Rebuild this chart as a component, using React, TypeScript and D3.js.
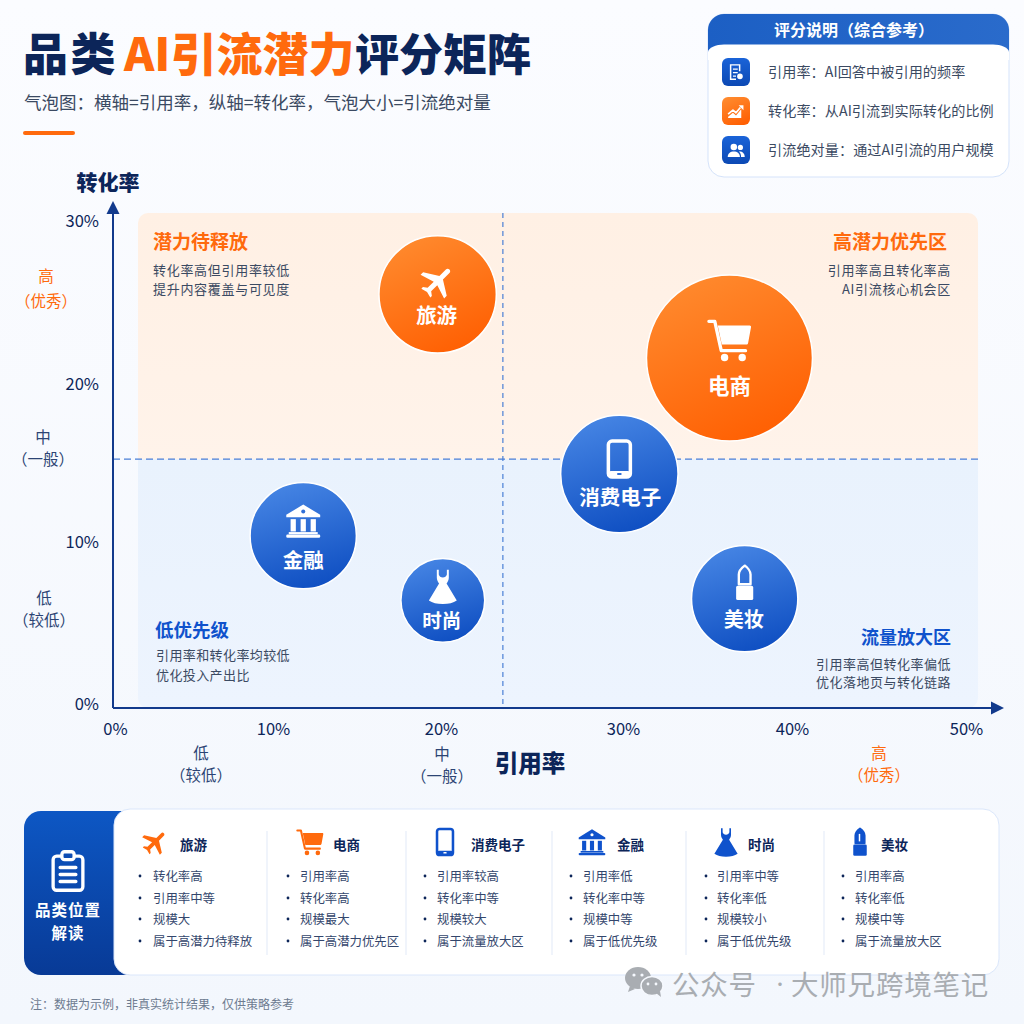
import React, { useEffect, useRef } from "react";
import { axisBottom, axisLeft, scaleLinear, scaleSqrt, select } from "d3";

const FONT = '"Noto Sans CJK SC", "Noto Sans", sans-serif';
const NAVY = "#0c2559";
const ORANGE = "#ff6a0d";
const BLUE = "#0f52cc";

// chart values
const categories = ["旅游", "电商", "消费电子", "金融", "时尚", "美妆"];
const citationRate = [19.8, 36.3, 29.8, 11.8, 20.1, 37.2];
const conversionRate = [25.5, 21.6, 14.3, 10.4, 6.4, 6.5];
const trafficSize = [50, 100, 50, 41, 25.5, 41];
const iconNames = ["plane", "cart", "phone", "bank", "dress", "lipstick"];
const tones = ["orange", "orange", "blue", "blue", "blue", "blue"];
const xTicks = [0, 10, 20, 30, 40, 50];
const yTicks = [0, 10, 20, 30];
const xDivider = 23.4;
const yDivider = 15.25;

const notes = [
  ["转化率高", "引用率中等", "规模大", "属于高潜力待释放"],
  ["引用率高", "转化率高", "规模最大", "属于高潜力优先区"],
  ["引用率较高", "转化率中等", "规模较大", "属于流量放大区"],
  ["引用率低", "转化率中等", "规模中等", "属于低优先级"],
  ["引用率中等", "转化率低", "规模较小", "属于低优先级"],
  ["引用率高", "转化率低", "规模中等", "属于流量放大区"],
];
const legendRows = [
  "引用率：AI回答中被引用的频率",
  "转化率：从AI引流到实际转化的比例",
  "引流绝对量：通过AI引流的用户规模",
];

// the picture's axes are not quite even, so the scales go through each tick
const x = scaleLinear().domain(xTicks).range([115, 273, 441, 623, 792, 966]);
const y = scaleLinear().domain(yTicks).range([704, 542, 384, 221]);
const r = scaleSqrt().domain([0, 100]).range([0, 83]);

// bubble inner layout: icon offset, icon size, label offset, label size
const bubbleLayout = [
  { iconDy: -13, iconSize: 40, labelDy: 20, labelSize: 20.5, labelDx: -1 },
  { iconDy: -18, iconSize: 47, labelDy: 27, labelSize: 21.5, labelDx: 0 },
  { iconDy: -15, iconSize: 40, labelDy: 22, labelSize: 20.5, labelDx: 1 },
  { iconDy: -15, iconSize: 37, labelDy: 23, labelSize: 20.5, labelDx: 0 },
  { iconDy: -14, iconSize: 36, labelDy: 19, labelSize: 19.5, labelDx: -1 },
  { iconDy: -16, iconSize: 38, labelDy: 20, labelSize: 20, labelDx: -1 },
];
const columnLayout = [
  { bullet: 139, text: 153, icon: 155, title: 180, iconSize: 30 },
  { bullet: 287, text: 300, icon: 310, title: 333, iconSize: 29 },
  { bullet: 424, text: 437, icon: 445, title: 471, iconSize: 29 },
  { bullet: 570, text: 583, icon: 592, title: 617, iconSize: 29 },
  { bullet: 705, text: 717, icon: 726, title: 748, iconSize: 30 },
  { bullet: 842, text: 855, icon: 860, title: 881, iconSize: 30 },
];
const columnDividers = [267, 406, 552, 686, 824];
const noteRowY = [876, 898, 919, 941];

function Icon({ name, color, cx, cy, size, hole }: any) {
  const k = size / 24;
  return (
    <g transform={`translate(${cx - 12 * k},${cy - 12 * k}) scale(${k})`} fill={color}>
      {name === "plane" && (
        <path
          transform="rotate(45 12 12)"
          d="M22 16.500v-2.200l-8.500-5.300V3.500C13.500 2.600 12.800 2 12 2s-1.500.6-1.500 1.500V9L2 14.300v2.200l8.500-2.700V19l-2.300 1.700V22l3.800-1 3.800 1v-1.300L13.500 19v-5.200z"
        />
      )}
      {name === "cart" && (
        <g>
          <path d="M1.500 2.500h3l3.300 15h12.400" fill="none" stroke={color} strokeWidth="1.700" strokeLinecap="round" strokeLinejoin="round" />
          <path d="M6 4.600h16.300c.5 0 .8.4.7.9l-1.500 8.200c-.1.4-.4.7-.8.7H8.100z" />
          <circle cx="9.500" cy="21" r="1.900" />
          <circle cx="18.500" cy="21" r="1.900" />
        </g>
      )}
      {name === "phone" && (
        <g>
          <rect x="5.400" y="1.200" width="13.200" height="21.600" rx="2.200" fill="none" stroke={color} strokeWidth="2.100" />
          <rect x="5.400" y="19.200" width="13.200" height="3.600" rx="1.500" />
          <rect x="10.600" y="20.300" width="2.800" height="1.300" rx="0.600" fill={hole} />
        </g>
      )}
      {name === "bank" && (
        <g>
          <path d="M12 1.500 23 8.200v1.500H1V8.200z" />
          <circle cx="12" cy="6" r="1.300" fill={hole} />
          <rect x="3.800" y="11" width="3.400" height="8" />
          <rect x="10.300" y="11" width="3.400" height="8" />
          <rect x="16.800" y="11" width="3.400" height="8" />
          <rect x="2.600" y="19.400" width="18.800" height="1.400" />
          <rect x="1" y="21" width="22" height="2" rx="0.800" />
        </g>
      )}
      {name === "dress" && (
        <path d="M8 1h1.300v3.200c.4 1.300 1.300 2 2.700 2s2.300-.7 2.700-2V1H16v5.200c0 1.600-.7 2.900-1.500 3.900l6.800 11.300c-2.300 1.500-5.400 2.400-9.300 2.400s-7-.9-9.300-2.400l6.800-11.300C8.700 9.100 8 7.800 8 6.200z" />
      )}
      {name === "lipstick" && (
        <g>
          <path
            d="M8.300 13V6.800c0-1.800 1.900-4.300 3.700-5.600 1.800 1.200 3.700 3.700 3.700 5.600V13z"
            fill={hole === "#fff" ? color : "none"}
            stroke={color}
            strokeWidth="1.500"
            strokeLinejoin="round"
          />
          {hole === "#fff" && <path d="M11 5.500h1.200v6H11z" fill="#fff" />}
          <rect x="6.600" y="14" width="10.800" height="9" rx="1" />
        </g>
      )}
      {name === "clipboard" && (
        <g fill="none" stroke={color} strokeWidth="1.900" strokeLinecap="round" strokeLinejoin="round">
          <rect x="3.500" y="3.500" width="17" height="19.500" rx="2" />
          <rect x="8.500" y="1" width="7" height="4.500" rx="1.500" fill="#0d4cb3" />
          <path d="M7.500 10h9M7.500 14h9M7.500 18h9" />
        </g>
      )}
      {name === "doc" && (
        <g>
          <path d="M5 3h12v8h-1.700V4.700H6.700v14.600H12V21H5z" />
          <path d="M8.500 8h5.500v1.500H8.500zM8.500 12h5.500v1.500H8.500zM8.500 16h3.500v1.500H8.500z" />
          <circle cx="16.500" cy="17" r="3.200" />
        </g>
      )}
      {name === "chart" && (
        <g>
          <path d="M3 15.500 8.500 11l3.500 3 5-6" fill="none" stroke={color} strokeWidth="2" strokeLinejoin="round" />
          <path d="M15 5.500h5.500V11z" />
          <path d="M3 18.500 8.500 14l3.500 3 6-7v10H3z" />
        </g>
      )}
      {name === "users" && (
        <g>
          <circle cx="9.500" cy="8.500" r="3.700" />
          <path d="M2.500 20c0-4 3-6.300 7-6.300s7 2.300 7 6.300z" />
          <circle cx="17" cy="9" r="3" />
          <path d="M17.800 20c0-2.700-.8-4.800-2.600-6.200 3.600-.5 6.800 1.700 6.800 6.200z" />
        </g>
      )}
    </g>
  );
}

export default function App() {
  const xAxisRef = useRef<SVGGElement | null>(null);
  const yAxisRef = useRef<SVGGElement | null>(null);

  useEffect(() => {
    const xAxis = select(xAxisRef.current as SVGGElement);
    xAxis.call(axisBottom(x).tickValues(xTicks).tickFormat((d) => `${d}%`).tickSize(0).tickPadding(0) as any);
    const yAxis = select(yAxisRef.current as SVGGElement);
    yAxis.call(axisLeft(y).tickValues(yTicks).tickFormat((d) => `${d}%`).tickSize(0).tickPadding(0) as any);
    for (const axis of [xAxis, yAxis]) {
      axis.select(".domain").remove();
      axis.attr("font-family", FONT).attr("font-size", 16.5);
      axis.selectAll(".tick text").attr("fill", NAVY);
    }
  }, []);

  const qx0 = 138;
  const qx1 = 978;
  const qy0 = 213;
  const qy1 = 708;
  const qx = x(xDivider);
  const qy = y(yDivider);

  const axisText = (t: string, cx: number, cy: number, fill: string, size = 15.5) => (
    <text x={cx} y={cy} textAnchor="middle" dominantBaseline="central" fontSize={size} fill={fill}>
      {t}
    </text>
  );

  return (
    <svg
      width={1024}
      height={1024}
      viewBox="0 0 1024 1024"
      style={{ position: "absolute", left: 0, top: 0 }}
      fontFamily={FONT}
    >
      <defs>
        <linearGradient id="page" x1="0" y1="0" x2="0" y2="1">
          <stop offset="0" stopColor="#fbfcff" />
          <stop offset="1" stopColor="#f3f7fd" />
        </linearGradient>
        <linearGradient id="orange" x1="0.25" y1="0" x2="0.7" y2="1">
          <stop offset="0" stopColor="#ff8a2e" />
          <stop offset="1" stopColor="#ff5f02" />
        </linearGradient>
        <linearGradient id="blue" x1="0.3" y1="0" x2="0.6" y2="1">
          <stop offset="0" stopColor="#4685e4" />
          <stop offset="1" stopColor="#0f4fc2" />
        </linearGradient>
        <linearGradient id="tile" x1="0" y1="0" x2="0" y2="1">
          <stop offset="0" stopColor="#1a63d8" />
          <stop offset="1" stopColor="#0c49b4" />
        </linearGradient>
        <linearGradient id="side" x1="0" y1="0" x2="0" y2="1">
          <stop offset="0" stopColor="#0d57c4" />
          <stop offset="1" stopColor="#083a96" />
        </linearGradient>
        <linearGradient id="head" x1="0" y1="0" x2="1" y2="0">
          <stop offset="0" stopColor="#1c5fc4" />
          <stop offset="1" stopColor="#2a6bcb" />
        </linearGradient>
        <linearGradient id="warm" x1="0" y1="0" x2="0" y2="1">
          <stop offset="0" stopColor="#fff0e4" />
          <stop offset="1" stopColor="#fff3ea" />
        </linearGradient>
        <linearGradient id="cool" x1="0" y1="0" x2="0" y2="1">
          <stop offset="0" stopColor="#e9f2fd" />
          <stop offset="1" stopColor="#edf4fe" />
        </linearGradient>
        <clipPath id="quad">
          <rect x={qx0} y={qy0} width={qx1 - qx0} height={qy1 - qy0} rx={10} />
        </clipPath>
        <clipPath id="legendBody">
          <rect x={708} y={14} width={301} height={163} rx={16} />
        </clipPath>
        <clipPath id="sideClip">
          <rect x={24} y={811} width={120} height={164} rx={17} />
        </clipPath>
      </defs>

      <rect width={1024} height={1024} fill="url(#page)" />

      {/* title */}
      <g fontWeight={900}>
        <text x={23} y={71} fontSize={45} fill={NAVY} letterSpacing={2.5}>品类</text>
        <text x={124} y={71} fontSize={46} fill={ORANGE}>AI引流潜力</text>
        <text x={355} y={71} fontSize={44} fill={NAVY}>评分矩阵</text>
      </g>
      <text x={24} y={109} fontSize={17.5} fill="#3b4a62">气泡图：横轴=引用率，纵轴=转化率，气泡大小=引流绝对量</text>
      <rect x={23} y={131} width={52} height={4} rx={2} fill={ORANGE} />

      {/* legend */}
      <rect x={708} y={14} width={301} height={163} rx={16} fill="#fff" stroke="#d5e3fa" />
      <g clipPath="url(#legendBody)">
        <rect x={708} y={14} width={301} height={38} fill="url(#head)" />
        <path d="M708 52 C708 48 716 44.500 724 44.500 H993 C1001 44.500 1009 48 1009 52 V60 H708z" fill="#fff" />
      </g>
      <text x={854} y={29} textAnchor="middle" dominantBaseline="central" fontSize={16} fontWeight={700} fill="#fff">
        评分说明（综合参考）
      </text>
      {legendRows.map((t, i) => {
        const cy = [72, 111, 150][i];
        return (
          <g key={t}>
            <rect x={722} y={cy - 14} width={28} height={28} rx={6} fill={i === 1 ? "url(#orange)" : "url(#tile)"} />
            <Icon name={["doc", "chart", "users"][i]} color="#fff" cx={736} cy={cy} size={21} />
            <text x={768} y={cy - 1} dominantBaseline="central" fontSize={14.100} fill="#3b4a62" letterSpacing={0.1}>{t}</text>
          </g>
        );
      })}

      {/* quadrants */}
      <g clipPath="url(#quad)">
        <rect x={qx0} y={qy0} width={qx1 - qx0} height={qy - qy0} fill="url(#warm)" />
        <rect x={qx0} y={qy} width={qx1 - qx0} height={qy1 - qy} fill="url(#cool)" />
      </g>
      <line x1={qx} x2={qx} y1={qy0} y2={qy1} stroke="#4a7fd6" strokeWidth={1.200} strokeDasharray="5 4" />
      <line x1={113} x2={qx1} y1={qy} y2={qy} stroke="#4a7fd6" strokeWidth={1.200} strokeDasharray="7 4" />

      {/* quadrant notes */}
      <g fontWeight={700}>
        <text x={153} y={240} fontSize={19} dominantBaseline="central" fill={ORANGE}>潜力待释放</text>
        <text x={947} y={240} fontSize={19} dominantBaseline="central" textAnchor="end" fill={ORANGE}>高潜力优先区</text>
        <text x={155} y={629} fontSize={18.500} dominantBaseline="central" fill={BLUE}>低优先级</text>
        <text x={951} y={636} fontSize={18} dominantBaseline="central" textAnchor="end" fill={BLUE}>流量放大区</text>
      </g>
      <g fontSize={13} fill="#3b4a62" letterSpacing={0.7}>
        <text x={153} y={269} dominantBaseline="central">转化率高但引用率较低</text>
        <text x={153} y={288} dominantBaseline="central">提升内容覆盖与可见度</text>
        <text x={951} y={269} dominantBaseline="central" textAnchor="end">引用率高且转化率高</text>
        <text x={951} y={288} dominantBaseline="central" textAnchor="end">AI引流核心机会区</text>
        <text x={156} y={654} dominantBaseline="central" letterSpacing={0.4}>引用率和转化率均较低</text>
        <text x={156} y={674} dominantBaseline="central" letterSpacing={0.4}>优化投入产出比</text>
        <text x={951} y={663} dominantBaseline="central" textAnchor="end" letterSpacing={0.5}>引用率高但转化率偏低</text>
        <text x={951} y={681} dominantBaseline="central" textAnchor="end" letterSpacing={0.5}>优化落地页与转化链路</text>
      </g>

      {/* axes */}
      <line x1={113} x2={113} y1={708} y2={212} stroke="#123a8c" strokeWidth={2} />
      <path d="M113 201 L119.500 214 H106.500z" fill="#123a8c" />
      <line x1={113} x2={992} y1={708} y2={708} stroke="#123a8c" strokeWidth={2} />
      <path d="M1004 708 L991 701.500 V714.500z" fill="#123a8c" />
      <g ref={xAxisRef} transform="translate(0,723)" />
      <g ref={yAxisRef} transform="translate(99,0)" />
      <text x={108} y={181} textAnchor="middle" dominantBaseline="central" fontSize={21} fontWeight={800} fill={NAVY}>转化率</text>
      <text x={530} y={762} textAnchor="middle" dominantBaseline="central" fontSize={23.500} fontWeight={800} fill={NAVY}>引用率</text>
      {axisText("高", 46, 275, ORANGE)}
      {axisText("（优秀）", 46, 300, ORANGE)}
      {axisText("中", 43, 436, "#2c4474")}
      {axisText("（一般）", 43, 458, "#2c4474")}
      {axisText("低", 44, 597, "#2c4474")}
      {axisText("（较低）", 44, 619, "#2c4474")}
      {axisText("低", 201, 752, "#2c4474")}
      {axisText("（较低）", 201, 774, "#2c4474")}
      {axisText("中", 442, 753, "#2c4474")}
      {axisText("（一般）", 442, 775, "#2c4474")}
      {axisText("高", 879, 752, ORANGE)}
      {axisText("（优秀）", 879, 774, ORANGE)}

      {/* bubbles */}
      {categories.map((name, i) => {
        const cx = x(citationRate[i]);
        const cy = y(conversionRate[i]);
        const fill = tones[i] === "orange" ? "url(#orange)" : "url(#blue)";
        const l = bubbleLayout[i];
        return (
          <g key={name}>
            <circle cx={cx} cy={cy} r={r(trafficSize[i])} fill={fill} stroke="#fff" strokeWidth={1.500} />
            <Icon
              name={iconNames[i]}
              color="#fff"
              hole={tones[i] === "orange" ? "#ff7a1a" : "#2f6fd8"}
              cx={cx}
              cy={cy + l.iconDy}
              size={l.iconSize}
            />
            <text x={cx + l.labelDx} y={cy + l.labelDy} textAnchor="middle" dominantBaseline="central" fontSize={l.labelSize} fontWeight={700} fill="#fff">
              {name}
            </text>
          </g>
        );
      })}

      {/* bottom panel */}
      <rect x={24} y={811} width={120} height={164} fill="url(#side)" clipPath="url(#sideClip)" />
      <rect x={114} y={809} width={885} height={166} rx={16} fill="#fff" stroke="#dbe7fb" />
      <Icon name="clipboard" color="#fff" cx={68} cy={871} size={42} />
      <text x={68} y={909} textAnchor="middle" dominantBaseline="central" fontSize={15.500} fontWeight={700} fill="#fff" letterSpacing={1}>品类位置</text>
      <text x={68} y={932} textAnchor="middle" dominantBaseline="central" fontSize={15.500} fontWeight={700} fill="#fff" letterSpacing={1}>解读</text>
      {columnDividers.map((d) => (
        <line key={d} x1={d} x2={d} y1={831} y2={955} stroke="#e1e9f7" />
      ))}
      {categories.map((name, i) => {
        const c = columnLayout[i];
        return (
          <g key={name}>
            <Icon
              name={iconNames[i]}
              color={tones[i] === "orange" ? ORANGE : BLUE}
              hole="#fff"
              cx={c.icon}
              cy={842}
              size={c.iconSize}
            />
            <text x={c.title} y={844} dominantBaseline="central" fontSize={13.500} fontWeight={700} fill={NAVY}>{name}</text>
            {notes[i].map((t, j) => (
              <g key={t}>
                <circle cx={c.bullet + 1} cy={noteRowY[j]} r={1.400} fill={NAVY} />
                <text x={c.text} y={noteRowY[j]} dominantBaseline="central" fontSize={12.400} fill="#33466c">{t}</text>
              </g>
            ))}
          </g>
        );
      })}

      {/* footnote and watermark */}
      <text x={30} y={1003} dominantBaseline="central" fontSize={12} fill="#6d7b90">注：数据为示例，非真实统计结果，仅供策略参考</text>
      <g fill="#a9adb2">
        <ellipse cx={638} cy={978} rx={13} ry={11} />
        <path d="M630 986l-2 6 7-3z" />
        <ellipse cx={652} cy={986} rx={11} ry={9.500} stroke="#f6f9fe" strokeWidth={1.500} />
        <path d="M656 993l5 4-1-6z" />
        <circle cx={634} cy={975} r={1.600} fill="#f6f9fe" />
        <circle cx={642} cy={975} r={1.600} fill="#f6f9fe" />
        <circle cx={648} cy={984} r={1.400} fill="#f6f9fe" />
        <circle cx={656} cy={984} r={1.400} fill="#f6f9fe" />
      </g>
      <g fill="#a9adb2">
        <text x={672} y={983} fontSize={27.500} dominantBaseline="central" letterSpacing={0.8}>公众号</text>
        <text x={772} y={983} fontSize={16} dominantBaseline="central">·</text>
        <text x={791} y={983} fontSize={27.500} dominantBaseline="central" letterSpacing={0.8}>大师兄跨境笔记</text>
      </g>
    </svg>
  );
}
